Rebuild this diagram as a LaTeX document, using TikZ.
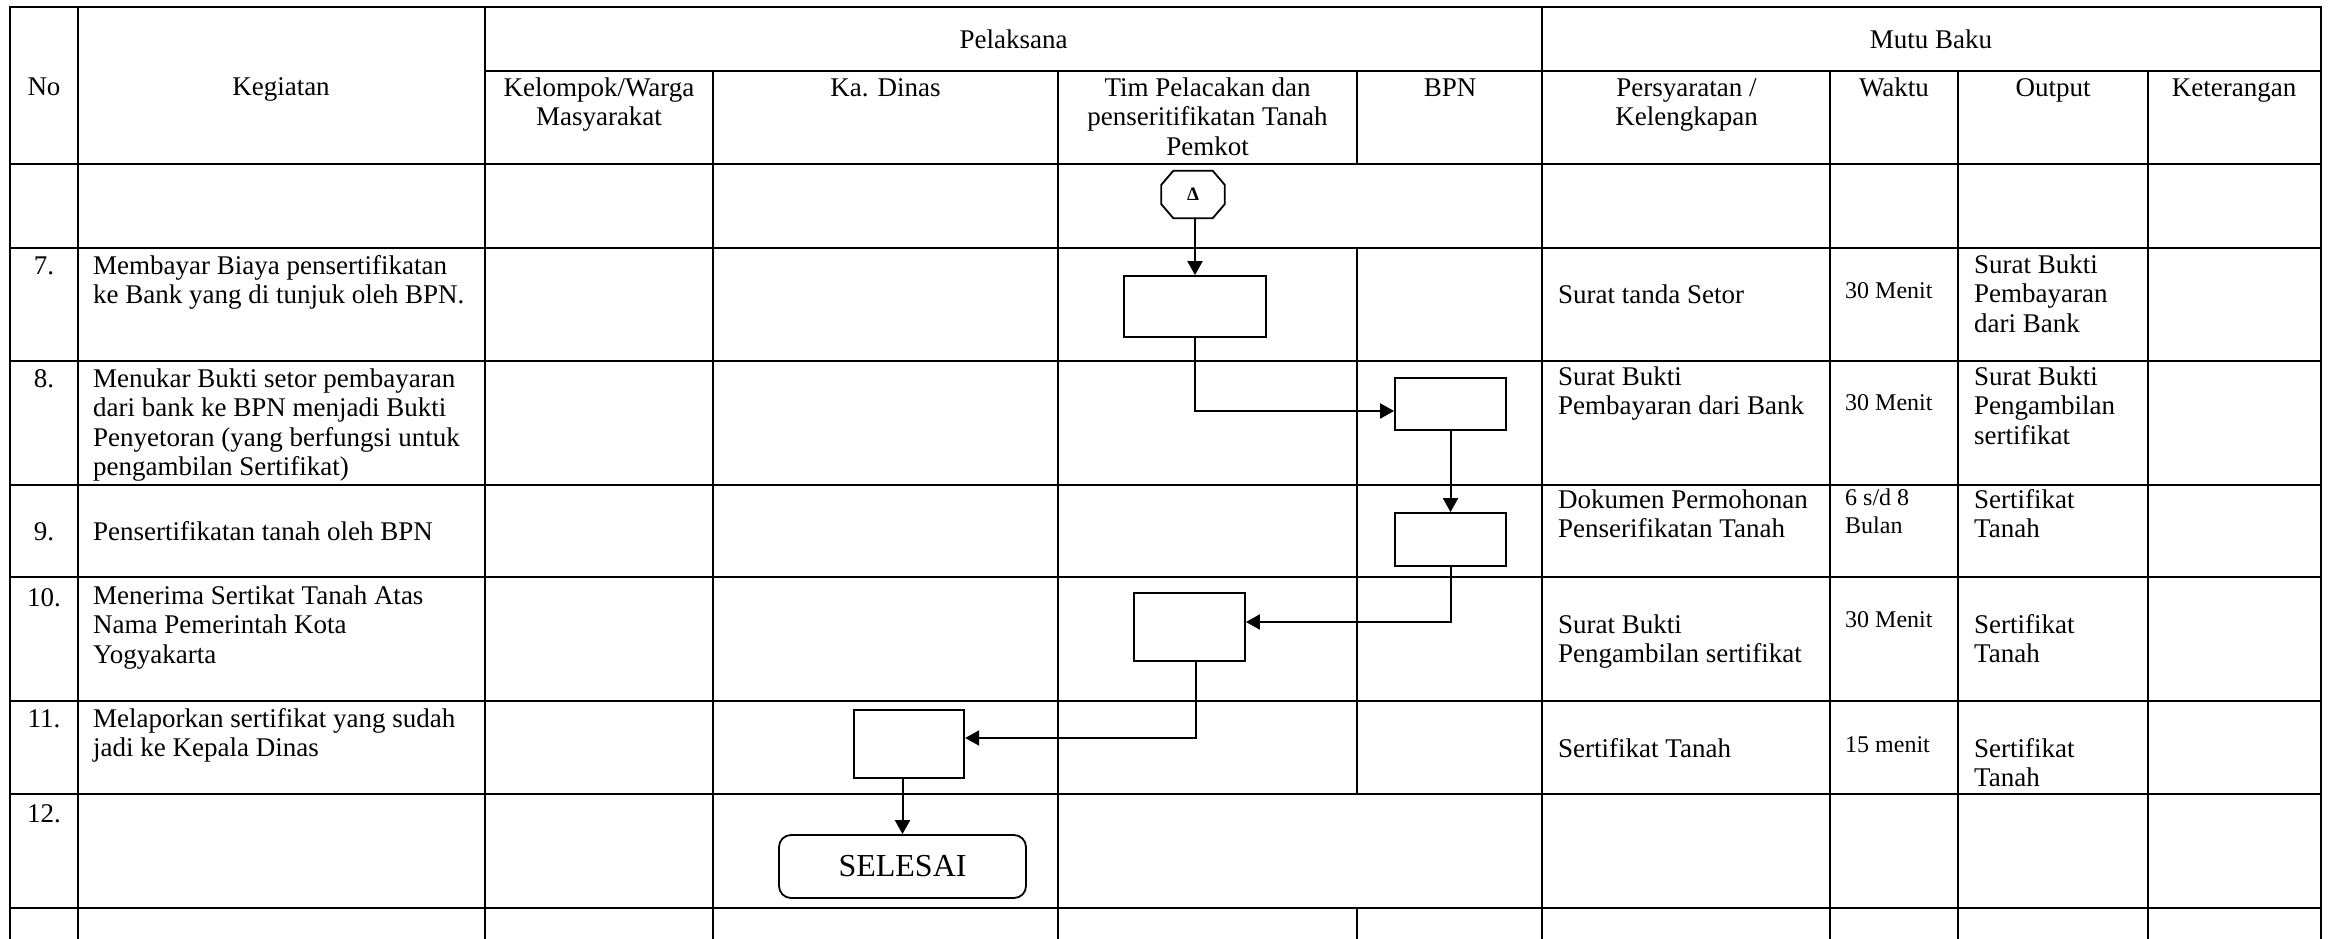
\documentclass[tikz,border=0pt]{standalone}
\usepackage{fontspec}
\setmainfont{Liberation Serif}
\usetikzlibrary{arrows.meta,calc}
\newcommand{\bodyfnt}{\fontsize{27}{29.5}\selectfont}
\newcommand{\smallfnt}{\fontsize{24}{28}\selectfont}
\newcommand{\fstrut}{\rule{0pt}{22pt}}
\tikzset{
  tbl/.style={line width=2.4pt, line cap=rect},
  txt/.style={anchor=north west, inner sep=0pt, align=left, font=\bodyfnt},
  ctxt/.style={anchor=north, inner sep=0pt, align=center, font=\bodyfnt},
  wtxt/.style={anchor=north west, inner sep=0pt, align=left, font=\smallfnt},
  proc/.style={draw, line width=1.8pt, inner sep=0pt},
  flow/.style={line width=2pt, -{Triangle[length=14pt,width=15pt]}}
}
\begin{document}
\begin{tikzpicture}[x=1pt,y=-1pt]
\useasboundingbox (0,0) rectangle (2329,939);
\fill[white] (0,0) rectangle (2329,939);

% ---------- table grid ----------
\draw[tbl] (10,7) -- (2321,7);
\draw[tbl] (485,71) -- (2321,71);
\foreach \yy in {164,248,361,485,577,701,794,908}
  \draw[tbl] (10,\yy) -- (2321,\yy);
\foreach \xx in {10,78,485,1542,2321}
  \draw[tbl] (\xx,7) -- (\xx,939);
\foreach \xx in {713,1058,1830,1958,2148}
  \draw[tbl] (\xx,71) -- (\xx,939);
\draw[tbl] (1357,71) -- (1357,164);
\draw[tbl] (1357,248) -- (1357,794);
\draw[tbl] (1357,908) -- (1357,939);

% ---------- headers ----------
\node[ctxt] (hpel) at (1013.5,26) {\fstrut Pelaksana};
\node[ctxt] (hmutu) at (1931,26) {\fstrut Mutu Baku};
\node[ctxt] (hno) at (44,73) {\fstrut No};
\node[ctxt] (hkeg) at (281,73) {\fstrut Kegiatan};
\node[ctxt] (hkel) at (599,74) {\fstrut Kelompok/Warga\\Masyarakat};
\node[ctxt] (hkad) at (885.5,74) {\fstrut Ka. Dinas};
\node[ctxt] (htim) at (1207.5,74) {\fstrut Tim Pelacakan dan\\penseritifikatan Tanah\\Pemkot};
\node[ctxt] (hbpn) at (1450,74) {\fstrut BPN};
\node[ctxt] (hper) at (1686.5,74) {\fstrut Persyaratan /\\Kelengkapan};
\node[ctxt] (hwak) at (1894,74) {\fstrut Waktu};
\node[ctxt] (hout) at (2053,74) {\fstrut Output};
\node[ctxt] (hket) at (2234,74) {\fstrut Keterangan};

% ---------- numbers ----------
\node[ctxt] (n7) at (44,252) {\fstrut 7.};
\node[ctxt] (n8) at (44,365) {\fstrut 8.};
\node[ctxt] (n9) at (44,518) {\fstrut 9.};
\node[ctxt] (n10) at (44,584) {\fstrut 10.};
\node[ctxt] (n11) at (44,705) {\fstrut 11.};
\node[ctxt] (n12) at (44,800) {\fstrut 12.};

% ---------- kegiatan ----------
\node[txt] (k7) at (93,252) {\fstrut Membayar Biaya pensertifikatan\\ke Bank yang di tunjuk oleh BPN.};
\node[txt] (k8) at (93,365) {\fstrut Menukar Bukti setor pembayaran\\dari bank ke BPN menjadi Bukti\\Penyetoran (yang berfungsi untuk\\pengambilan Sertifikat)};
\node[txt] (k9) at (93,518) {\fstrut Pensertifikatan tanah oleh BPN};
\node[txt] (k10) at (93,582) {\fstrut Menerima Sertikat Tanah Atas\\Nama Pemerintah Kota\\Yogyakarta};
\node[txt] (k11) at (93,705) {\fstrut Melaporkan sertifikat yang sudah\\jadi ke Kepala Dinas};

% ---------- persyaratan ----------
\node[txt] (p7) at (1558,281) {\fstrut Surat tanda Setor};
\node[txt] (p8) at (1558,363) {\fstrut Surat Bukti\\Pembayaran dari Bank};
\node[txt] (p9) at (1558,486) {\fstrut Dokumen Permohonan\\Penserifikatan Tanah};
\node[txt] (p10) at (1558,611) {\fstrut Surat Bukti\\Pengambilan sertifikat};
\node[txt] (p11) at (1558,735) {\fstrut Sertifikat Tanah};

% ---------- waktu ----------
\node[wtxt] (w7) at (1845,276) {\fstrut 30 Menit};
\node[wtxt] (w8) at (1845,388) {\fstrut 30 Menit};
\node[wtxt] (w9) at (1845,483) {\fstrut 6 s/d 8\\Bulan};
\node[wtxt] (w10) at (1845,605) {\fstrut 30 Menit};
\node[wtxt] (w11) at (1845,730) {\fstrut 15 menit};

% ---------- output ----------
\node[txt] (o7) at (1974,251) {\fstrut Surat Bukti\\Pembayaran\\dari Bank};
\node[txt] (o8) at (1974,363) {\fstrut Surat Bukti\\Pengambilan\\sertifikat};
\node[txt] (o9) at (1974,486) {\fstrut Sertifikat\\Tanah};
\node[txt] (o10) at (1974,611) {\fstrut Sertifikat\\Tanah};
\node[txt] (o11) at (1974,735) {\fstrut Sertifikat\\Tanah};

% ---------- flowchart ----------
\node[minimum width=63pt, minimum height=47pt, inner sep=0pt,
      font=\fontsize{19}{19}\selectfont\bfseries] (oct) at (1193,194.5) {Δ};
\draw[line width=1.8pt]
  ([xshift=12pt]oct.north west) -- ([xshift=-12pt]oct.north east)
  -- ([yshift=-14pt]oct.north east) -- ([yshift=14pt]oct.south east)
  -- ([xshift=-12pt]oct.south east) -- ([xshift=12pt]oct.south west)
  -- ([yshift=14pt]oct.south west) -- ([yshift=-14pt]oct.north west) -- cycle;

\node[proc, minimum width=142pt, minimum height=61pt] (b1) at (1195,306.5) {};
\node[proc, minimum width=111pt, minimum height=52pt] (b2) at (1450.5,404) {};
\node[proc, minimum width=111pt, minimum height=53pt] (b3) at (1450.5,539.5) {};
\node[proc, minimum width=111pt, minimum height=68pt] (b4) at (1189.5,627) {};
\node[proc, minimum width=110.5pt, minimum height=68pt] (b5) at (909,744) {};
\node[proc, rounded corners=12pt, minimum width=247pt, minimum height=63pt,
      font=\fontsize{32}{32}\selectfont] (sel) at (902.5,866.5) {SELESAI};

\draw[flow] (b1.north |- oct.south) -- (b1.north);
\draw[flow] (b1.south) |- ([yshift=-7pt]b2.west);
\draw[flow] (b2.south) -- (b3.north);
\draw[flow] (b3.south) |- ([yshift=5pt]b4.east);
\draw[flow] ([xshift=6pt]b4.south) |- ([yshift=6pt]b5.east);
\draw[flow] (sel.north |- b5.south) -- (sel.north);
\end{tikzpicture}
\end{document}
